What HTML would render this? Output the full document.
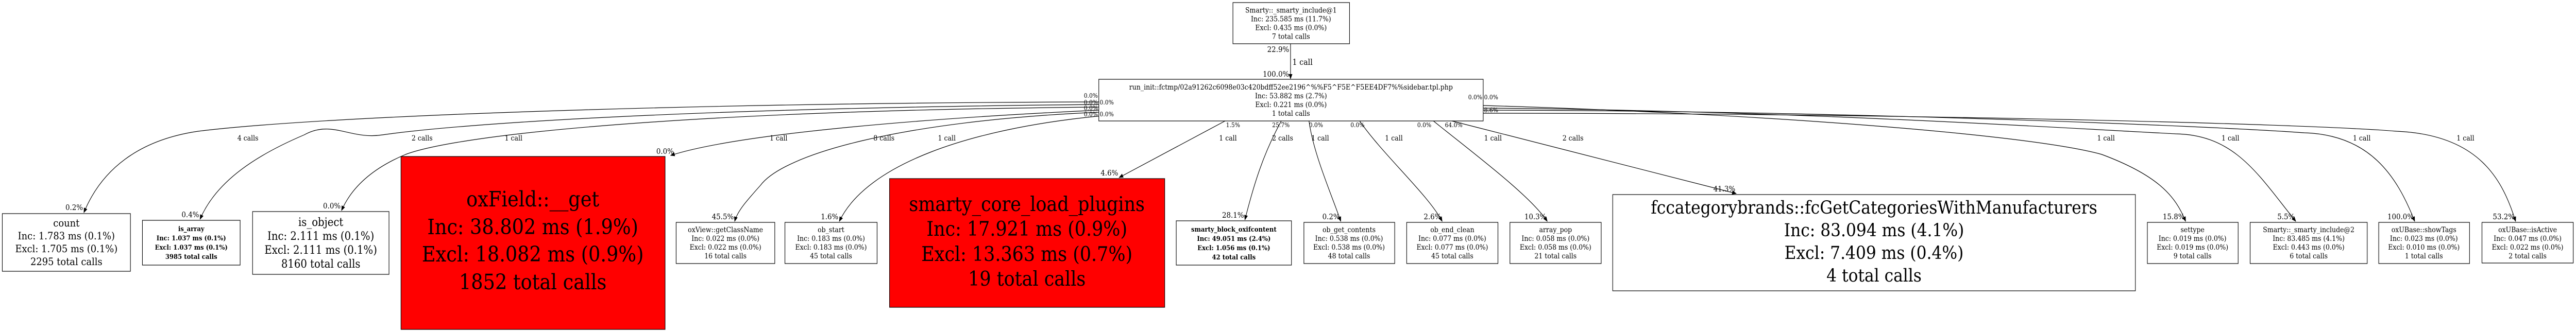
<!DOCTYPE html>
<html><head><meta charset="utf-8"><style>
html,body{margin:0;padding:0;background:#fff;width:100%;height:100%;overflow:hidden}
svg{display:block;position:absolute;left:0;top:0;width:100vw;height:100vh}
text{font-family:"DejaVu Serif",serif;fill:#000}
</style></head><body>
<svg viewBox="0 0 5589 645" preserveAspectRatio="none" xmlns="http://www.w3.org/2000/svg">
<defs><marker id="a" markerWidth="10" markerHeight="10" refX="9" refY="5" orient="auto" markerUnits="userSpaceOnUse"><path d="M0,1 L10,5 L0,9 z" fill="#000"/></marker></defs>
<g fill="none" stroke="#000" stroke-width="1.2" marker-end="url(#a)">
<path d="M2800,85 L2800,153"/>
<path d="M2384,198 C1500,200 700,225 430,255 C300,272 220,330 182,413"/>
<path d="M2384,203 C1500,210 1000,240 830,262 C760,272 720,232 660,262 C560,300 470,350 434,426"/>
<path d="M2384,208 C1500,215 1000,260 880,300 C800,330 760,370 741,409"/>
<path d="M2384,214 C2000,230 1600,260 1455,302"/>
<path d="M2384,218 C1950,235 1700,300 1650,360 C1620,390 1600,410 1594,430"/>
<path d="M2390,225 C2100,250 1880,320 1821,430"/>
<path d="M2658,235 L2428,345"/>
<path d="M2780,235 C2740,300 2720,360 2701,427"/>
<path d="M2840,235 C2850,300 2890,380 2909,430"/>
<path d="M2950,235 C3000,300 3100,380 3129,430"/>
<path d="M3110,235 C3200,300 3320,380 3357,430"/>
<path d="M3150,235 L3767,376"/>
<path d="M3218,205 C3800,220 4400,260 4560,300 C4680,340 4720,380 4742,430"/>
<path d="M3218,210 C3900,215 4500,250 4720,260 C4850,262 4900,340 4981,430"/>
<path d="M3218,214 C4000,215 4800,245 5000,258 C5140,262 5200,340 5239,430"/>
<path d="M3218,220 C4100,220 5000,240 5200,255 C5380,262 5430,350 5458,430"/>
</g>
<g stroke="#000" stroke-width="1.2">
<rect x="2675" y="5" width="253" height="80" fill="#fff"/>
<rect x="2384" y="154" width="834" height="81" fill="#fff"/>
<rect x="5" y="415" width="278" height="112" fill="#fff"/>
<rect x="309" y="428" width="212" height="87" fill="#fff"/>
<rect x="548" y="411" width="296" height="122" fill="#fff"/>
<rect x="870" y="304" width="573" height="336" fill="#ff0000"/>
<rect x="1467" y="432" width="214" height="80" fill="#fff"/>
<rect x="1703" y="432" width="200" height="80" fill="#fff"/>
<rect x="1930" y="347" width="597" height="250" fill="#ff0000"/>
<rect x="2552" y="429" width="250" height="86" fill="#fff"/>
<rect x="2829" y="432" width="197" height="80" fill="#fff"/>
<rect x="3052" y="432" width="198" height="80" fill="#fff"/>
<rect x="3276" y="432" width="198" height="80" fill="#fff"/>
<rect x="3499" y="378" width="1134" height="187" fill="#fff"/>
<rect x="4659" y="432" width="197" height="80" fill="#fff"/>
<rect x="4882" y="432" width="254" height="80" fill="#fff"/>
<rect x="5161" y="432" width="197" height="80" fill="#fff"/>
<rect x="5385" y="432" width="198" height="79" fill="#fff"/>
</g>
<g text-anchor="middle" font-size="14">
<text x="2801" y="24.5">Smarty::_smarty_include@1</text>
<text x="2801" y="41.5">Inc: 235.585 ms (11.7%)</text>
<text x="2801" y="58.5">Excl: 0.435 ms (0.0%)</text>
<text x="2801" y="75.5">7 total calls</text>
<text x="2801" y="174">run_init::fctmp/02a91262c6098e03c420bdff52ee2196^%%F5^F5E^F5EE4DF7%%sidebar.tpl.php</text>
<text x="2801" y="191">Inc: 53.882 ms (2.7%)</text>
<text x="2801" y="208">Excl: 0.221 ms (0.0%)</text>
<text x="2801" y="225">1 total calls</text>
</g>
<g text-anchor="middle" font-size="20">
<text x="144" y="440">count</text><text x="144" y="465">Inc: 1.783 ms (0.1%)</text><text x="144" y="490">Excl: 1.705 ms (0.1%)</text><text x="144" y="515">2295 total calls</text>
</g>
<g text-anchor="middle" font-size="13" font-weight="bold">
<text x="415" y="449">is_array</text><text x="415" y="467">Inc: 1.037 ms (0.1%)</text><text x="415" y="485">Excl: 1.037 ms (0.1%)</text><text x="415" y="503">3985 total calls</text>
<text x="2677" y="450">smarty_block_oxifcontent</text><text x="2677" y="468">Inc: 49.051 ms (2.4%)</text><text x="2677" y="486">Excl: 1.056 ms (0.1%)</text><text x="2677" y="504">42 total calls</text>
</g>
<g text-anchor="middle" font-size="22">
<text x="696" y="439">is_object</text><text x="696" y="466">Inc: 2.111 ms (0.1%)</text><text x="696" y="493">Excl: 2.111 ms (0.1%)</text><text x="696" y="520">8160 total calls</text>
</g>
<g text-anchor="middle" font-size="41">
<text x="1156" y="401">oxField::__get</text><text x="1156" y="455">Inc: 38.802 ms (1.9%)</text><text x="1156" y="508">Excl: 18.082 ms (0.9%)</text><text x="1156" y="562">1852 total calls</text>
</g>
<g text-anchor="middle" font-size="39">
<text x="2228" y="410">smarty_core_load_plugins</text><text x="2228" y="458">Inc: 17.921 ms (0.9%)</text><text x="2228" y="507">Excl: 13.363 ms (0.7%)</text><text x="2228" y="555">19 total calls</text>
</g>
<g text-anchor="middle" font-size="35">
<text x="4066" y="415">fccategorybrands::fcGetCategoriesWithManufacturers</text><text x="4066" y="459">Inc: 83.094 ms (4.1%)</text><text x="4066" y="503">Excl: 7.409 ms (0.4%)</text><text x="4066" y="547">4 total calls</text>
</g>
<g text-anchor="middle" font-size="14">
<text x="1574" y="451">oxView::getClassName</text><text x="1574" y="468">Inc: 0.022 ms (0.0%)</text><text x="1574" y="485">Excl: 0.022 ms (0.0%)</text><text x="1574" y="502">16 total calls</text>
<text x="1803" y="451">ob_start</text><text x="1803" y="468">Inc: 0.183 ms (0.0%)</text><text x="1803" y="485">Excl: 0.183 ms (0.0%)</text><text x="1803" y="502">45 total calls</text>
<text x="2927" y="451">ob_get_contents</text><text x="2927" y="468">Inc: 0.538 ms (0.0%)</text><text x="2927" y="485">Excl: 0.538 ms (0.0%)</text><text x="2927" y="502">48 total calls</text>
<text x="3151" y="451">ob_end_clean</text><text x="3151" y="468">Inc: 0.077 ms (0.0%)</text><text x="3151" y="485">Excl: 0.077 ms (0.0%)</text><text x="3151" y="502">45 total calls</text>
<text x="3375" y="451">array_pop</text><text x="3375" y="468">Inc: 0.058 ms (0.0%)</text><text x="3375" y="485">Excl: 0.058 ms (0.0%)</text><text x="3375" y="502">21 total calls</text>
<text x="4757" y="451">settype</text><text x="4757" y="468">Inc: 0.019 ms (0.0%)</text><text x="4757" y="485">Excl: 0.019 ms (0.0%)</text><text x="4757" y="502">9 total calls</text>
<text x="5009" y="451">Smarty::_smarty_include@2</text><text x="5009" y="468">Inc: 83.485 ms (4.1%)</text><text x="5009" y="485">Excl: 0.443 ms (0.0%)</text><text x="5009" y="502">6 total calls</text>
<text x="5259" y="451">oxUBase::showTags</text><text x="5259" y="468">Inc: 0.023 ms (0.0%)</text><text x="5259" y="485">Excl: 0.010 ms (0.0%)</text><text x="5259" y="502">1 total calls</text>
<text x="5484" y="451">oxUBase::isActive</text><text x="5484" y="468">Inc: 0.047 ms (0.0%)</text><text x="5484" y="485">Excl: 0.022 ms (0.0%)</text><text x="5484" y="502">2 total calls</text>
</g>
<g font-size="15" text-anchor="end">
<text x="2797" y="101">22.9%</text>
<text x="2797" y="149">100.0%</text>
<text x="180" y="408">0.2%</text>
<text x="432" y="422">0.4%</text>
<text x="739" y="405">0.0%</text>
<text x="1462" y="299">0.0%</text>
<text x="1592" y="426">45.5%</text>
<text x="1819" y="426">1.6%</text>
<text x="2426" y="341">4.6%</text>
<text x="2699" y="423">28.1%</text>
<text x="2907" y="426">0.2%</text>
<text x="3127" y="426">2.6%</text>
<text x="3355" y="426">10.3%</text>
<text x="3765" y="372">41.3%</text>
<text x="4740" y="426">15.8%</text>
<text x="4979" y="426">5.5%</text>
<text x="5237" y="426">100.0%</text>
<text x="5456" y="426">53.2%</text>
</g>
<g font-size="12" text-anchor="end">
<text x="2382" y="190">0.0%</text><text x="2382" y="203">0.0%</text><text x="2382" y="214">0.0%</text><text x="2382" y="226">0.0%</text>
<text x="3216" y="193">0.0%</text>
</g>
<g font-size="12">
<text x="2386" y="203">0.0%</text><text x="2386" y="226">0.0%</text>
<text x="3220" y="193">0.0%</text><text x="3220" y="218">8.6%</text>
<text x="2660" y="247">1.5%</text><text x="2760" y="247">25.7%</text><text x="2840" y="247">0.0%</text><text x="2930" y="247">0.0%</text><text x="3075" y="247">0.0%</text><text x="3135" y="247">64.0%</text>
</g>
<text x="2804" y="126" font-size="16">1 call</text>
<g font-size="14">
<text x="515" y="273">4 calls</text>
<text x="893" y="273">2 calls</text>
<text x="1095" y="273">1 call</text>
<text x="1670" y="273">1 call</text>
<text x="1895" y="273">8 calls</text>
<text x="2035" y="273">1 call</text>
<text x="2645" y="273">1 call</text>
<text x="2760" y="273">2 calls</text>
<text x="2845" y="273">1 call</text>
<text x="3005" y="273">1 call</text>
<text x="3220" y="273">1 call</text>
<text x="3390" y="273">2 calls</text>
<text x="4550" y="273">1 call</text>
<text x="4820" y="273">1 call</text>
<text x="5105" y="273">1 call</text>
<text x="5330" y="273">1 call</text>
</g>
</svg>
</body></html>
